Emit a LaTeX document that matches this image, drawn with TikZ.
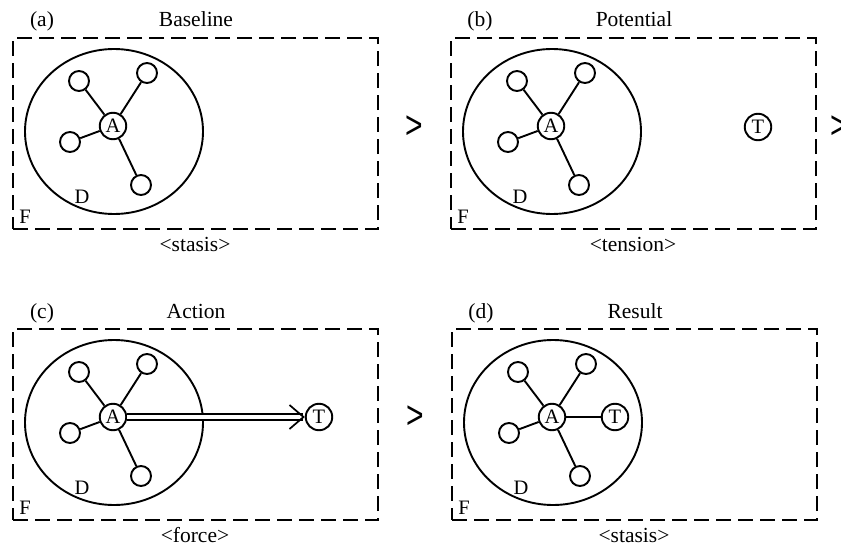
\documentclass[tikz,border=0pt]{standalone}
\usepackage{fontspec}
\setmainfont{Liberation Serif}
\newfontfamily\sepfont{Liberation Sans}
\usetikzlibrary{arrows.meta}
\tikzset{
  frame/.style={draw, dash pattern=on 15pt off 7pt, line width=2pt, minimum width=365pt, minimum height=191pt, inner sep=0pt, anchor=north west},
  domline/.style={draw, line width=1.9pt},
  hub/.style={draw, circle, line width=1.9pt, minimum size=26.5pt, inner sep=0pt, font=\fontsize{20.5}{20}\selectfont},
  leaf/.style={draw, circle, line width=1.9pt, minimum size=20pt, inner sep=0pt},
  link/.style={line width=1.9pt},
  ttl/.style={font=\fontsize{21.5}{24}\selectfont, inner sep=0pt},
  letter/.style={font=\fontsize{20.5}{20}\selectfont, inner sep=0pt},
  sep/.style={font=\sepfont\fontsize{30}{30}\selectfont, inner sep=0pt},
  force/.style={double, double distance=4.5pt, line width=1.7pt, -{Straight Barb[length=14pt, width=24pt, line width=1.7pt]}}
}
\newcommand\drawpanel[6]{%
\begin{scope}[shift={(#2,#3)}]
  \node[frame] (#1F) at (0,0) {};
  \node[ttl, anchor=base] (#1lab) at (30,-10) {(#1)};
  \node[ttl, anchor=base] (#1title) at (184,-10) {#5};
  \node[ttl, anchor=base] (#1sub) at (183,214) {#6};
  \draw[domline] (102,94.5) ellipse [x radius=89pt, y radius=82.5pt];
  \node[hub] (#1A) at (101,89) {A};
  \node[leaf] (#1n1) at (67,44) {};
  \node[leaf] (#1n2) at (135,36) {};
  \node[leaf] (#1n3) at (58,105) {};
  \node[leaf] (#1n4) at (129,148) {};
  \draw[link] (#1A) -- (#1n1);
  \draw[link] (#1A) -- (#1n2);
  \draw[link] (#1A) -- (#1n3);
  \draw[link] (#1A) -- (#1n4);
  \node[letter] (#1D) at (70,160) {D};
  \node[letter] (#1L) at (13,180) {F};
\end{scope}}
\begin{document}
\begin{tikzpicture}[x=1pt,y=-1pt]
\useasboundingbox (0,0) rectangle (841,546);
\drawpanel{a}{12}{37}{}{Baseline}{<stasis>}
\drawpanel{b}{450}{37}{}{Potential}{<tension>}
\drawpanel{c}{12}{328}{}{Action}{<force>}
\drawpanel{d}{451}{328}{}{Result}{<stasis>}
% targets
\node[hub] (bT) at (758,127) {T};
\node[hub] (cT) at (319,417) {T};
\node[hub] (dT) at (615,417) {T};
\draw[force] (cA) -- (cT);
\draw[link] (dA) -- (dT);
% separators
\node[sep] (s1) at (414,127) {\scalebox{1}[1.3]{>}};
\node[sep] (s2) at (839,127) {\scalebox{1}[1.3]{>}};
\node[sep] (s3) at (415,417) {\scalebox{1}[1.3]{>}};
\end{tikzpicture}
\end{document}
